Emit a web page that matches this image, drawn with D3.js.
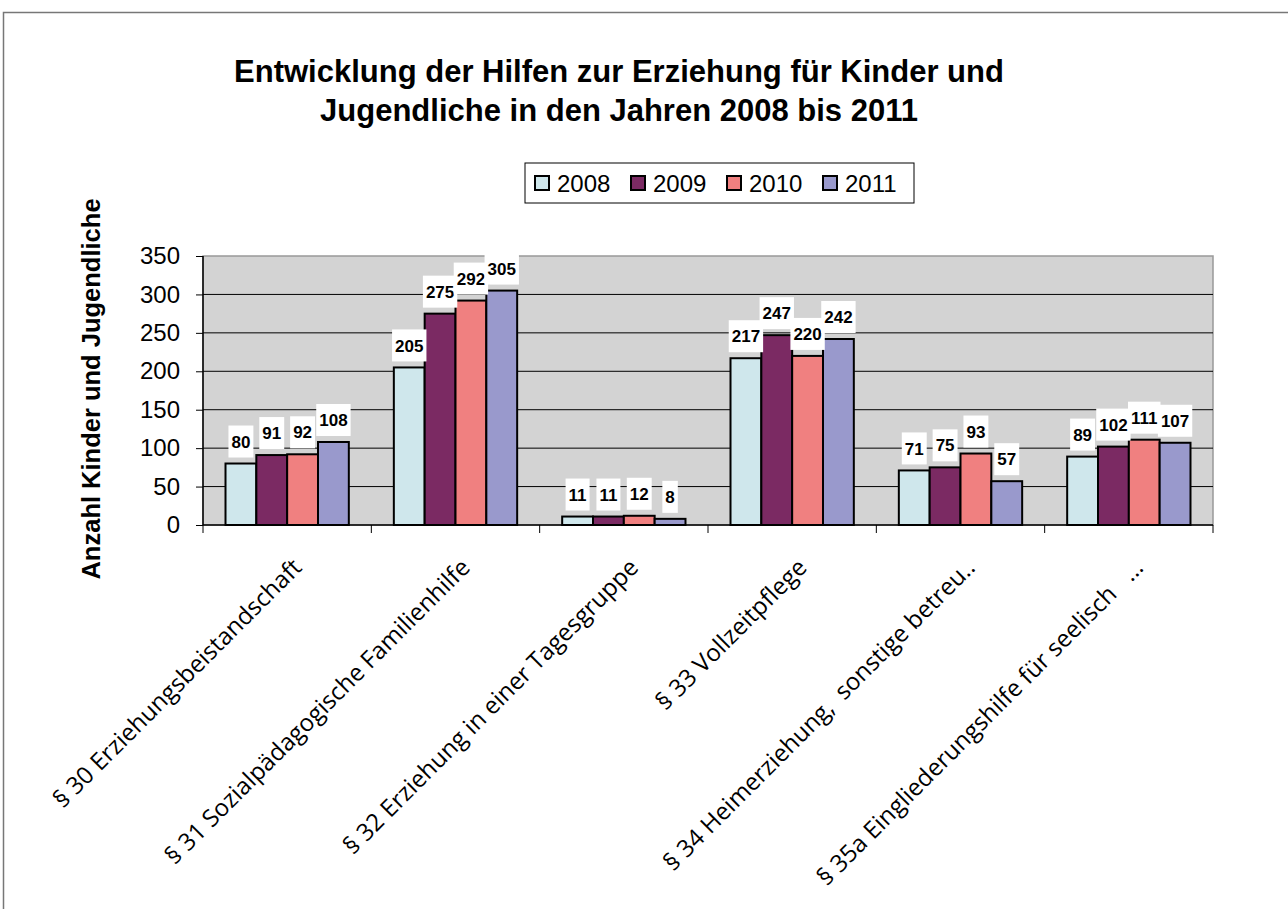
<!DOCTYPE html>
<html>
<head>
<meta charset="utf-8">
<script src="https://cdn.jsdelivr.net/npm/d3@7"></script>
<style>
  body { margin: 0; background: #fff; }
  text { font-family: Arial, "Liberation Sans", sans-serif; }
</style>
</head>
<body>
<svg id="chart" width="1288" height="909"></svg>
<script>
const categories = [
    "§ 30 Erziehungsbeistandschaft",
    "§ 31 Sozialpädagogische Familienhilfe",
    "§ 32 Erziehung in einer Tagesgruppe",
    "§ 33 Vollzeitpflege",
    "§ 34 Heimerziehung,  sonstige betreu..",
    "§ 35a Eingliederungshilfe für seelisch   ..."
]
const years = ["2008", "2009", "2010", "2011"]
const values2008 = [80, 205, 11, 217, 71, 89]
const values2009 = [91, 275, 11, 247, 75, 102]
const values2010 = [92, 292, 12, 220, 93, 111]
const values2011 = [108, 305, 8, 242, 57, 107]
const yTicks = [0, 50, 100, 150, 200, 250, 300, 350]
const colors = ["#cfe7ec", "#7b2a63", "#f08080", "#9999cc"]

const series = [values2008, values2009, values2010, values2011]
const margin = { top: 256, right: 75, bottom: 384, left: 203 }
const width = 1288
const height = 909

document.addEventListener("DOMContentLoaded", function () {

    const svg = d3.select("#chart")

    // chart frame
    svg.append("rect")
        .attr("x", 3.5).attr("y", 12.5)
        .attr("width", 1300).attr("height", 1000)
        .attr("fill", "#fff").attr("stroke", "#777").attr("stroke-width", 1.5)

    const x0 = d3.scaleBand()
        .domain(categories)
        .range([margin.left, width - margin.right])

    const x1 = d3.scaleBand()
        .domain(years)
        .range([0, x0.bandwidth()])
        .paddingOuter(0.73)

    const y = d3.scaleLinear()
        .domain([0, 350])
        .range([height - margin.bottom, margin.top])

    // plot area
    svg.append("rect")
        .attr("x", margin.left).attr("y", margin.top)
        .attr("width", width - margin.right - margin.left)
        .attr("height", y(0) - margin.top)
        .attr("fill", "#d3d3d3")
        .attr("stroke", "#999").attr("stroke-width", 1.5)

    // gridlines
    svg.append("g")
        .selectAll("line")
        .data(yTicks.filter(d => d > 0 && d < 350))
        .join("line")
        .attr("x1", margin.left).attr("x2", width - margin.right)
        .attr("y1", d => y(d)).attr("y2", d => y(d))
        .attr("stroke", "#000").attr("stroke-width", 1)

    // bars
    const groups = svg.append("g")
        .selectAll("g")
        .data(categories)
        .join("g")
        .attr("transform", d => `translate(${x0(d)},0)`)

    const barData = (c, i) => years.map((yr, j) => ({ yr, j, value: series[j][i] }))

    groups.selectAll("rect")
        .data(barData)
        .join("rect")
        .attr("x", d => x1(d.yr))
        .attr("y", d => y(d.value))
        .attr("width", x1.bandwidth())
        .attr("height", d => y(0) - y(d.value))
        .attr("fill", d => colors[d.j])
        .attr("stroke", "#000").attr("stroke-width", 2)

    // value labels
    const labels = groups.selectAll("g.lbl")
        .data(barData)
        .join("g")
        .attr("class", "lbl")
        .attr("transform", d => `translate(${x1(d.yr) + x1.bandwidth() / 2},${y(d.value) - 22})`)

    labels.append("text")
        .attr("text-anchor", "middle")
        .attr("dy", "0.36em")
        .attr("font-size", 17)
        .attr("font-weight", "bold")
        .text(d => d.value)

    labels.each(function () {
        const g = d3.select(this)
        const bb = g.select("text").node().getBBox()
        g.insert("rect", "text")
            .attr("x", bb.x - 3).attr("y", -16)
            .attr("width", bb.width + 6).attr("height", 32)
            .attr("fill", "#fff")
    })

    // x axis
    const xAxis = svg.append("g")
    xAxis.append("line")
        .attr("x1", margin.left).attr("x2", width - margin.right)
        .attr("y1", y(0)).attr("y2", y(0))
        .attr("stroke", "#000").attr("stroke-width", 1.5)
    xAxis.selectAll("line.tick")
        .data(categories.map(c => x0(c)).concat([width - margin.right]))
        .join("line")
        .attr("class", "tick")
        .attr("x1", d => d).attr("x2", d => d)
        .attr("y1", y(0)).attr("y2", y(0) + 8)
        .attr("stroke", "#000")
    xAxis.selectAll("text")
        .data(categories)
        .join("text")
        .attr("transform", d => `translate(${x0(d) + x0.bandwidth() / 2 + 16},${y(0) + 44}) rotate(-45)`)
        .attr("text-anchor", "end")
        .attr("font-size", 24)
        .style("font-family", "'Open Sans', sans-serif")
        .style("white-space", "pre")
        .text(d => d)

    // y axis
    svg.append("g")
        .attr("transform", `translate(${margin.left},0)`)
        .call(d3.axisLeft(y).tickValues(yTicks).tickSize(7).tickPadding(16))
        .call(g => g.select(".domain").attr("stroke-width", 1.5).attr("d", `M0,${y(0)}V${y(350)}`))
        .call(g => g.selectAll("text").attr("font-size", 24).attr("fill", "#000")
            .style("font-family", "Arial, 'Liberation Sans', sans-serif"))

    svg.append("text")
        .attr("transform", `translate(100,389) rotate(-90)`)
        .attr("text-anchor", "middle")
        .attr("font-size", 25.5)
        .attr("font-weight", "bold")
        .text("Anzahl Kinder und Jugendliche")

    // title
    const title = svg.append("text")
        .attr("text-anchor", "middle")
        .attr("font-size", 31)
        .attr("font-weight", "bold")
    title.append("tspan").attr("x", 619).attr("y", 82)
        .text("Entwicklung der Hilfen zur Erziehung für Kinder und")
    title.append("tspan").attr("x", 619).attr("y", 121)
        .text("Jugendliche in den Jahren 2008 bis 2011")

    // legend
    const legend = svg.append("g").attr("transform", "translate(525,163)")
    legend.append("rect")
        .attr("width", 389).attr("height", 40)
        .attr("fill", "#fff").attr("stroke", "#000").attr("stroke-width", 1)
    const item = legend.selectAll("g")
        .data(years)
        .join("g")
        .attr("transform", (d, i) => `translate(${10 + i * 96},20)`)
    item.append("rect")
        .attr("x", 0).attr("y", -7)
        .attr("width", 14).attr("height", 14)
        .attr("fill", (d, i) => colors[i])
        .attr("stroke", "#000").attr("stroke-width", 2)
    item.append("text")
        .attr("x", 22).attr("dy", "0.36em")
        .attr("font-size", 24)
        .text(d => d)
})
</script>
</body>
</html>
